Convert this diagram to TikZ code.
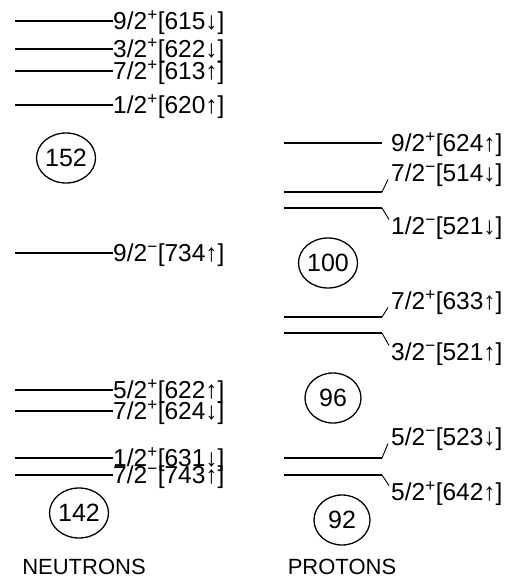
\documentclass[tikz,border=0pt]{standalone}
\usepackage{fontspec}
\setmainfont{Liberation Sans}
\usetikzlibrary{shapes.geometric}
\newcommand\spl{\textsuperscript{+}}
\newcommand\smi{\textsuperscript{\char"2212}}
\begin{document}
\begin{tikzpicture}[x=1pt,y=-1pt,
  level/.style={line width=2.6pt},
  conn/.style={line width=0.9pt},
  lab/.style={anchor=base west,inner sep=0pt,font=\fontsize{24.5}{28}\selectfont},
  magic/.style={draw,ellipse,line width=1.3pt,minimum width=56pt,minimum height=50pt,inner sep=0pt,font=\fontsize{25}{28}\selectfont},
  title/.style={inner sep=0pt,font=\fontsize{22}{26}\selectfont}]
\useasboundingbox (0,0) rectangle (513,580);
% ---------- neutrons ----------
\foreach \i/\y/\t in {1/21/{9/2\spl[615↓]},2/49/{3/2\spl[622↓]},3/71/{7/2\spl[613↑]},4/105/{1/2\spl[620↑]},
  5/253/{9/2\smi[734↑]},6/390/{5/2\spl[622↑]},7/411/{7/2\spl[624↓]},8/458/{1/2\spl[631↓]},9/475/{7/2\smi[743↑]}}{
  \coordinate (ns\i) at (15,\y);
  \node[lab] (n\i) at (113,\y+8.5) {\t};
  \draw[level] (ns\i) -- (ns\i -| n\i.west);
}
\node[magic] (m152) at (66,158) {152};
\node[magic] (m142) at (79,513) {142};
\node[title] (neu) at (84,567) {NEUTRONS};
% ---------- protons ----------
\coordinate (ps1) at (284,143); \coordinate (pe1) at (382,143);
\node[lab] (p1) at (391,151.5) {9/2\spl[624↑]};
\draw[level] (ps1) -- (pe1);
% up-slanted
\foreach \i/\y/\c/\t in {2/192/173/{7/2\smi[514↓]},4/317/301/{7/2\spl[633↑]},6/458/437/{5/2\smi[523↓]}}{
  \coordinate (ps\i) at (284,\y); \coordinate (pe\i) at (382,\y);
  \node[lab] (p\i) at (391,\c+8.5) {\t};
  \draw[level] (ps\i) -- (pe\i);
  \draw[conn] (pe\i) -- ([xshift=-3pt,yshift=2pt]p\i.base west);
}
% down-slanted
\foreach \i/\y/\c/\t in {3/208/226/{1/2\smi[521↓]},5/333/352/{3/2\smi[521↑]},7/475/492/{5/2\spl[642↑]}}{
  \coordinate (ps\i) at (284,\y); \coordinate (pe\i) at (382,\y);
  \node[lab] (p\i) at (391,\c+8.5) {\t};
  \draw[level] (ps\i) -- (pe\i);
  \draw[conn] (pe\i) -- ([xshift=-2pt,yshift=15pt]p\i.base west);
}
\node[magic] (m100) at (328,263) {100};
\node[magic] (m96) at (333,398) {96};
\node[magic] (m92) at (342,520) {92};
\node[title] (pro) at (342,567) {PROTONS};
\end{tikzpicture}
\end{document}
